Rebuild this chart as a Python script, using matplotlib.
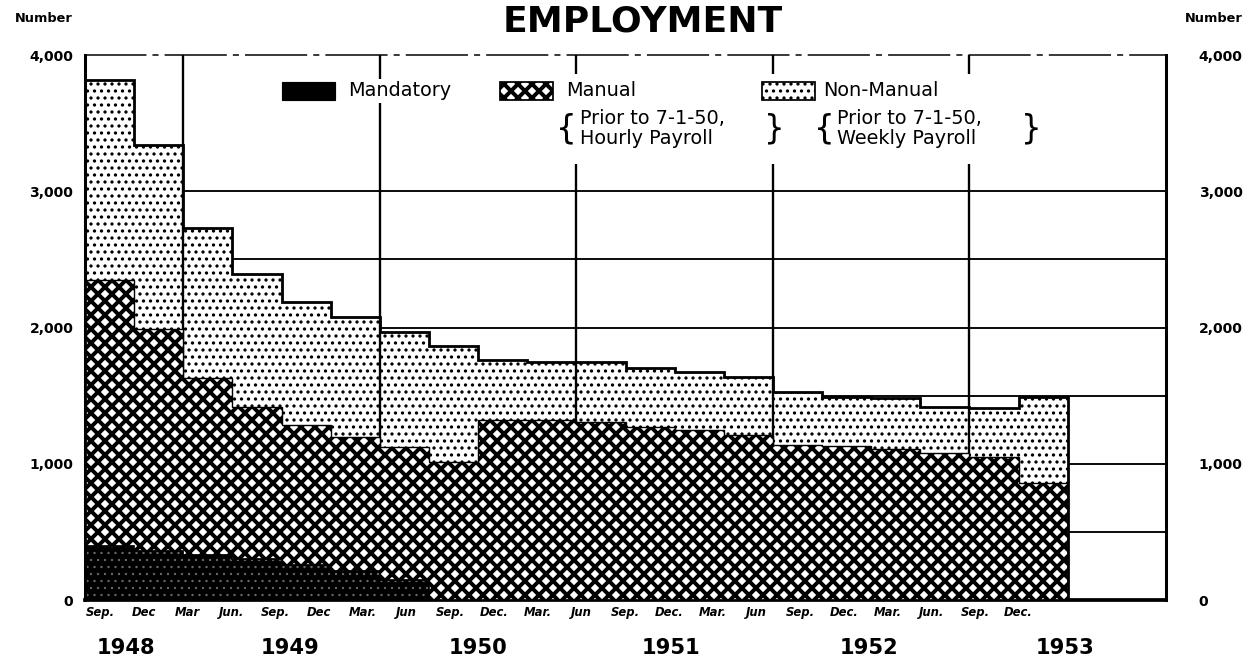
import matplotlib
matplotlib.use("Agg")
import matplotlib as mpl
import matplotlib.pyplot as plt
from matplotlib.patches import Rectangle
import numpy as np

# quarters Sep 1948 .. Dec 1953 (data stops at Jun 1953)
months = ["Sep.", "Dec", "Mar", "Jun.", "Sep.", "Dec",
          "Mar.", "Jun", "Sep.", "Dec.",
          "Mar.", "Jun", "Sep.", "Dec.",
          "Mar.", "Jun", "Sep.", "Dec.",
          "Mar.", "Jun.", "Sep.", "Dec."]
years = ["1948", "1949", "1950", "1951", "1952", "1953"]

mandatory = [400, 360, 330, 300, 260, 210, 150, 0, 0, 0,
             0, 0, 0, 0, 0, 0, 0, 0, 0, 0]
manual = [1950, 1630, 1300, 1115, 1025, 985, 975, 1010, 1320, 1320,
          1310, 1270, 1250, 1210, 1140, 1130, 1110, 1080, 1050, 860]
non_manual = [1465, 1350, 1100, 975, 905, 885, 845, 855, 440, 425,
              435, 430, 425, 430, 390, 360, 370, 340, 360, 630]

DPI = 84
fig = plt.figure(figsize=(1251 / DPI, 669 / DPI), dpi=DPI)
ax = fig.add_axes([85 / 1251, 1 - 600 / 669, 1081 / 1251, 545 / 669])

n = len(manual)
edges = np.arange(n + 1)
base1 = np.array(mandatory)
top1 = base1 + np.array(manual)
top2 = top1 + np.array(non_manual)

MAN_HATCH, MAN_LW = "xx", 3.4
NON_HATCH, NON_LW = "..", 1.6


def hatch_lw(artist, lw):
    if hasattr(artist, "set_hatch_linewidth"):
        artist.set_hatch_linewidth(lw)


# background grid
ax.hlines(np.arange(500, 3001, 500), 0, len(months), color="black", lw=1.6, zorder=0.5)
year_breaks = [i for i, m in enumerate(months) if m.startswith("Mar")]
ax.vlines(year_breaks, 0, 4000, color="black", lw=2, zorder=2.5)

# stacked step areas
with mpl.rc_context({"hatch.linewidth": NON_LW}):
    s3 = ax.stairs(top2, edges, baseline=top1, fill=True, facecolor="white",
                   edgecolor="black", hatch=NON_HATCH, lw=0, zorder=2)
hatch_lw(s3, NON_LW)
with mpl.rc_context({"hatch.linewidth": MAN_LW}):
    s2 = ax.stairs(top1, edges, baseline=base1, fill=True, facecolor="white",
                   edgecolor="black", hatch=MAN_HATCH, lw=0, zorder=3)
hatch_lw(s2, MAN_LW)
with mpl.rc_context({"hatch.linewidth": 0.8}):
    s1 = ax.stairs(base1, edges, baseline=0, fill=True, facecolor="black",
                   edgecolor="#6a6a6a", hatch="..", lw=0, zorder=3)
hatch_lw(s1, 0.8)
ax.stairs(base1, edges, baseline=None, color="black", lw=1.5, zorder=3.5)
ax.stairs(top1, edges, baseline=None, color="black", lw=1.2, zorder=3.5)
ax.stairs(top2, edges, baseline=0, color="black", lw=2.4, zorder=4)

ax.set_xlim(0, len(months))
ax.set_ylim(0, 4000)

# axes frame
for side in ["left", "right"]:
    ax.spines[side].set_linewidth(2.6)
ax.spines["bottom"].set_linewidth(3.2)
ax.spines["top"].set_linewidth(1.3)
ax.spines["top"].set_linestyle((0, (40, 5, 3, 5)))

yt = np.arange(0, 4001, 1000)
ylabels = ["0" if v == 0 else f"{v:,}" for v in yt]
ax.set_yticks(yt, ylabels, fontsize=12, fontweight="bold")
ax.tick_params(axis="y", length=0, pad=10)
ax2 = ax.twinx()
ax2.set_ylim(0, 4000)
ax2.set_yticks(yt, ylabels, fontsize=12, fontweight="bold")
ax2.tick_params(axis="y", length=0, pad=28)
for sp in ax2.spines.values():
    sp.set_visible(False)

# month labels (lettering is a little tighter than the bars)
tick_pos = 0.31 + 0.89 * np.arange(len(months))
ax.set_xticks(tick_pos, months, fontsize=10, fontweight="bold", fontstyle="italic")
ax.tick_params(axis="x", length=0, pad=5)

year_x = [0.84, 4.18, 8.0, 11.92, 15.95, 19.95]
for x, y in zip(year_x, years):
    ax.text(x, -0.088, y, transform=ax.get_xaxis_transform(), ha="center",
            va="center", fontsize=18, fontweight="bold")

# legend
legend_box = dict(facecolor="white", edgecolor="none", pad=2)
ax.add_patch(Rectangle((0.182, 0.918), 0.049, 0.033, transform=ax.transAxes,
                       facecolor="black", edgecolor="black", zorder=6))
ax.text(0.243, 0.934, "Mandatory", transform=ax.transAxes, fontsize=16.5,
        va="center", ha="left", zorder=6, bbox=legend_box)

with mpl.rc_context({"hatch.linewidth": MAN_LW}):
    r2 = Rectangle((0.384, 0.918), 0.049, 0.033, transform=ax.transAxes,
                   facecolor="white", edgecolor="black", hatch=MAN_HATCH, lw=1.5, zorder=6)
hatch_lw(r2, MAN_LW)
ax.add_patch(r2)
with mpl.rc_context({"hatch.linewidth": NON_LW}):
    r3 = Rectangle((0.626, 0.918), 0.049, 0.033, transform=ax.transAxes,
                   facecolor="white", edgecolor="black", hatch=NON_HATCH, lw=1.5, zorder=6)
hatch_lw(r3, NON_LW)
ax.add_patch(r3)

for x0, head, last in [(0.445, "Manual", "Hourly Payroll"),
                       (0.683, "Non-Manual", "Weekly Payroll")]:
    ax.add_patch(Rectangle((x0 - 0.02, 0.8), 0.225, 0.165, transform=ax.transAxes,
                           facecolor="white", edgecolor="none", zorder=5))
    ax.text(x0 - 0.009, 0.864, "{", transform=ax.transAxes, fontsize=28,
            va="center", ha="left", zorder=6)
    ax.text(x0, 0.934, head, transform=ax.transAxes, fontsize=16.5,
            va="center", ha="left", zorder=6)
    ax.text(x0 + 0.013, 0.884, "Prior to 7-1-50,", transform=ax.transAxes,
            fontsize=16.5, va="center", ha="left", zorder=6)
    ax.text(x0 + 0.013, 0.846, last, transform=ax.transAxes,
            fontsize=16.5, va="center", ha="left", zorder=6)
    ax.text(x0 + 0.202, 0.864, "}", transform=ax.transAxes, fontsize=28,
            va="center", ha="right", zorder=6)

fig.text(643 / 1251, 1 - 22 / 669, "EMPLOYMENT", ha="center", va="center",
         fontsize=31, fontweight="bold")
fig.text(15 / 1251, 1 - 18 / 669, "Number", ha="left", va="center",
         fontsize=11, fontweight="bold")
fig.text(1185 / 1251, 1 - 18 / 669, "Number", ha="left", va="center",
         fontsize=11, fontweight="bold")

fig.savefig("out.png", dpi=DPI)
